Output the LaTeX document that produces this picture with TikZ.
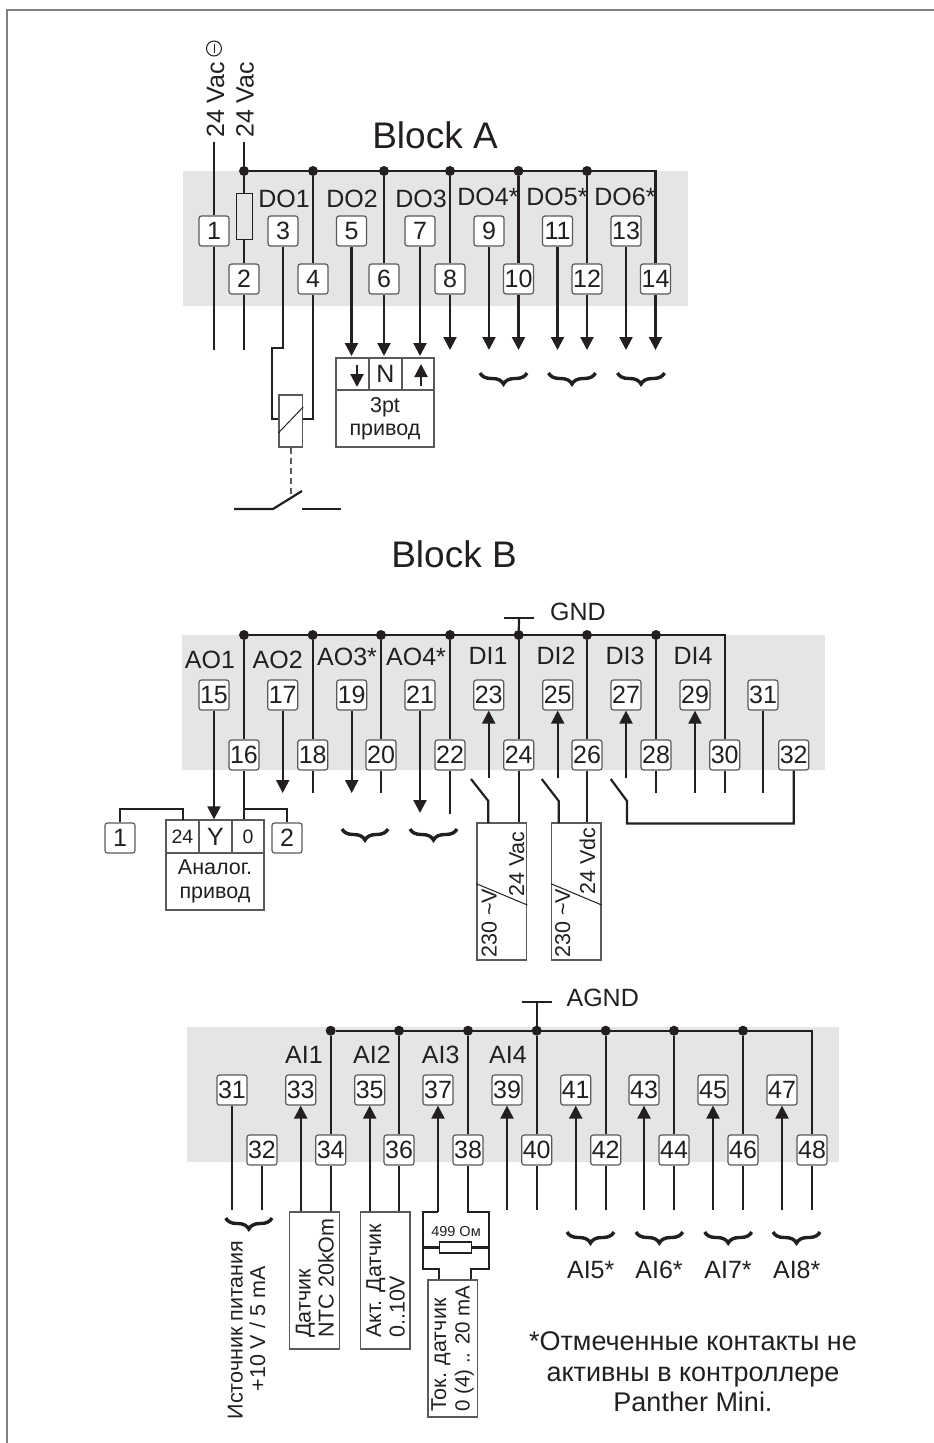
\documentclass[tikz,border=0pt]{standalone}
\usepackage{fontspec}
\setmainfont{Liberation Sans}
\usetikzlibrary{arrows.meta}
\usetikzlibrary{decorations.pathreplacing}
\definecolor{ink}{HTML}{231F20}
\definecolor{panel}{HTML}{E4E5E7}
\definecolor{edge}{HTML}{5A5A5C}
\tikzset{
  lab/.style={inner sep=0pt, text=ink, font=\fontsize{25}{28}\selectfont},
  rot/.style={inner sep=0pt, text=ink, rotate=90, anchor=base west, font=\fontsize{21.5}{23}\selectfont},
  term/.style={draw=edge, line width=1.2pt, fill=white, rounded corners=2.5pt, minimum size=30pt, inner sep=0pt, text=ink, font=\fontsize{25}{28}\selectfont},
  cell/.style={draw=edge, line width=1.3pt, fill=white, inner sep=0pt, text=ink},
  wire/.style={draw=ink, line width=2.2pt},
  tipwire/.style={wire, -{Triangle[length=13pt,width=13pt]}},
  thin wire/.style={draw=ink, line width=1pt},
  dot/.style={circle, fill=ink, minimum size=10pt, inner sep=0pt},
  bracket/.style={draw=ink, line width=3.4pt, decorate, decoration={brace, mirror, amplitude=11pt}},
}
\begin{document}
\begin{tikzpicture}[x=1pt, y=-1pt]
  \useasboundingbox (0,0) rectangle (934,1443);

  \draw[color=gray, line width=2pt] (934,10) -- (6.5,10) -- (6.5,1443);

  \fill[panel] (183,171) rectangle (688,306);
  \fill[panel] (182,635) rectangle (825,770);
  \fill[panel] (187,1027) rectangle (839,1162);

%Block A
  \node[lab, font=\fontsize{37}{40}\selectfont] (titleA) at (435,135) {Block A};
  \def\dy{231};
  \foreach \x/\num in {214/1,283/3,351.5/5,420/7,489/9,557.5/11,626/13} {
    \node[term] (a\num) at (\x,\dy) {\num};
  }
  \def\dy{279};
  \foreach \x/\num in {244/2,313/4,384/6,450/8,518.5/10,587/12,655.5/14} {
    \node[term] (a\num) at (\x,\dy) {\num};
  }
  \foreach \x/\dy/\txt/\name in {284/199/DO1/do1,352/199/DO2/do2,421/199/DO3/do3,488/197/DO4*/do4,557/197/DO5*/do5,625/197/DO6*/do6} {
    \node[lab] (\name) at (\x,\dy) {\txt};
  }
  \foreach \x/\num in {244/2,313/4,384/6,450/8,518.5/10,587/12} {
    \node[dot] (pa\num) at (\x,171) {};
  }
  \draw[wire] (pa2) -| (a14);
  \foreach \num in {4,6,8,10,12} {
    \draw[wire] (pa\num) -- (a\num);
  }

  \node[rot, font=\fontsize{25}{28}\selectfont] (vac1) at (224,138) {24 Vac};
  \node[rot, font=\fontsize{25}{28}\selectfont] (vac2) at (253.5,138) {24 Vac};
  \node[circle, draw=ink, line width=1pt, minimum size=15pt, inner sep=0pt] (mark) at (214,48.5) {};
  \draw[thin wire] (mark.north) ++(0,3) -- ++(0,9);

  \coordinate (top1) at (214,142);
  \coordinate (top2) at (244,142);
  \node[cell, draw=ink, line width=1pt, fill=panel, minimum width=16pt, minimum height=46pt] (fuse) at (244,216) {};
  \draw[wire] (top1) -- (a1);
  \draw[wire] (top2) -- (pa2);
  \draw[wire] (pa2) -- (fuse);
  \draw[wire] (fuse) -- (a2);

  \foreach \x/\num in {214/1,244/2} {
    \coordinate (ea\num) at (\x,350);
    \draw[wire] (a\num) -- (ea\num);
  }
  \foreach \x/\num/\yend in {351.5/5/356,384/6/356,420/7/356,450/8/350,489/9/350,518.5/10/350,557.5/11/350,587/12/350,626/13/350,655.5/14/350} {
    \coordinate (ea\num) at (\x,\yend);
    \draw[tipwire] (a\num) -- (ea\num);
  }

  \foreach \xa/\xb in {480/527,548.5/595.5,617.5/664.5} {
    \draw[bracket] (\xa,373) -- (\xb,373);
  }

  \node[cell, minimum width=23.5pt, minimum height=52pt] (coil) at (290.75,421) {};
  \draw[thin wire] (coil.west |- 0,433) -- (coil.east |- 0,407);
  \draw[wire] (a3) -- (283,348) -- (272,348) -- (272,419) -- (coil.west |- 0,419);
  \draw[wire] (a4) -- (313,419) -- (coil.east |- 0,419);
  \coordinate (relay) at (291,495);
  \draw[draw=edge, line width=1.3pt, dash pattern=on 6pt off 4pt] (coil.south -| relay) -- (relay);
  \draw[wire] (234,509) -- (273,509) -- (302,491);
  \draw[wire] (302,509) -- (341,509);

  \node[cell, minimum width=33pt, minimum height=32pt] (down) at (352.5,374) {};
  \node[cell, minimum width=33pt, minimum height=32pt, font=\fontsize{25}{28}\selectfont] (n3) at (385.5,374) {N};
  \node[cell, minimum width=32pt, minimum height=32pt] (up) at (418,374) {};
  \node[cell, minimum width=98pt, minimum height=57pt, font=\fontsize{21.5}{23}\selectfont, align=center] (pt3) at (385,418.5) {3pt\\привод};
  \draw[tipwire] (357,365) -- (357,387);
  \draw[tipwire] (421,386) -- (421,364);

%Block B
  \node[lab, font=\fontsize{37}{40}\selectfont] (titleB) at (454,554) {Block B};
  \def\dy{695};
  \foreach \x/\num in {214/15,282.7/17,351.7/19,420/21,488.7/23,557.7/25,626/27,695/29,763/31} {
    \node[term] (b\num) at (\x,\dy) {\num};
  }
  \def\dy{755};
  \foreach \x/\num in {244/16,312.7/18,381/20,450/22,518.7/24,587/26,656/28,724.7/30,793.7/32} {
    \node[term] (b\num) at (\x,\dy) {\num};
  }
  \foreach \x/\dy/\txt/\name in {210/660/AO1/ao1,277.7/660/AO2/ao2,347/657/AO3*/ao3,416/657/AO4*/ao4,488/656/DI1/di1,556/656/DI2/di2,625/656/DI3/di3,693/656/DI4/di4} {
    \node[lab] (\name) at (\x,\dy) {\txt};
  }
  \foreach \x/\num in {244/16,312.7/18,381/20,450/22,518.7/24,587/26,656/28} {
    \node[dot] (pb\num) at (\x,635) {};
    \draw[wire] (pb\num) -- (b\num);
  }
  \draw[wire] (pb16) -| (b30);

  \coordinate (gndtop) at (519,618);
  \coordinate (gndl) at (504,618);
  \coordinate (gndr) at (534,618);
  \draw[wire] (pb24) -- (gndtop);
  \draw[wire] (gndl) -- (gndr);
  \node[lab] (gnd) at (578,612) {GND};

  \foreach \x/\name/\txt in {120/one/1,287/two/2} {
    \node[term] (\name) at (\x,838) {\txt};
  }
  \node[cell, minimum width=33pt, minimum height=33pt, font=\fontsize{19.5}{22}\selectfont] (p24) at (182.5,836.5) {24};
  \node[cell, minimum width=33pt, minimum height=33pt, font=\fontsize{25}{28}\selectfont] (py) at (215.5,836.5) {Y};
  \node[cell, minimum width=32pt, minimum height=33pt, font=\fontsize{19.5}{22}\selectfont] (p0) at (248,836.5) {0};
  \node[cell, minimum width=98pt, minimum height=57pt, font=\fontsize{21.5}{24}\selectfont, align=center] (analog) at (215,881.5) {Аналог.\\привод};
  \draw[tipwire] (b15) -- (b15 |- py.north);
  \draw[wire] (b16) -- (b16 |- p0.north);
  \draw[wire] (one) |- (183,809) -- (183,820);
  \draw[wire] (244,809) -| (two);

  \foreach \x/\num/\yend in {282.7/17/793,351.7/19/793,420/21/813} {
    \coordinate (eb\num) at (\x,\yend);
    \draw[tipwire] (b\num) -- (eb\num);
  }
  \foreach \x/\num/\yend in {312.7/18/793,381/20/793,450/22/814,656/28/793,724.7/30/793,763/31/793} {
    \coordinate (eb\num) at (\x,\yend);
    \draw[wire] (b\num) -- (eb\num);
  }
  \foreach \x/\num/\ystart in {488.7/23/778,557.7/25/778,626/27/778,695/29/793} {
    \coordinate (eb\num) at (\x,\ystart);
    \draw[tipwire] (eb\num) -- (b\num);
  }
  \foreach \xa/\xb in {342/388,410/457} {
    \draw[bracket] (\xa,829) -- (\xb,829);
  }

  \node[cell, minimum width=49.7pt, minimum height=137pt] (vac) at (501.85,891.5) {};
  \node[cell, minimum width=49.3pt, minimum height=137pt] (vdc) at (576.35,891.5) {};
  \draw[thin wire] (vac.west |- 0,883.7) -- (vac.east |- 0,905);
  \draw[thin wire] (vdc.west |- 0,883.7) -- (vdc.east |- 0,905);
  \node[rot] (v230a) at (496.5,958) {230 \textasciitilde V};
  \node[rot] (v24a) at (524,897) {24 Vac};
  \node[rot] (v230b) at (570,958) {230 \textasciitilde V};
  \node[rot] (v24b) at (595,895) {24 Vdc};
  \draw[wire] (b24) -- (b24 |- vac.north);
  \draw[wire] (b26) -- (b26 |- vdc.north);
  \draw[wire] (471,779) -- (488.3,801) -- (488.3,823);
  \draw[wire] (541.7,779) -- (558.7,801) -- (558.7,823);
  \draw[wire] (610.7,779) -- (627,801) -- (627,823.5) -| (b32);

%Block C
  \def\dy{1090};
  \foreach \x/\num in {232/31,300.7/33,369.7/35,438/37,507/39,575.7/41,644/43,713/45,782/47} {
    \node[term] (c\num) at (\x,\dy) {\num};
  }
  \def\dy{1150};
  \foreach \x/\num in {262/32,330.7/34,399/36,468/38,536.7/40,605.7/42,674/44,743/46,812/48} {
    \node[term] (c\num) at (\x,\dy) {\num};
  }
  \foreach \x/\txt/\name in {304/AI1/ai1,372/AI2/ai2,440.7/AI3/ai3,508/AI4/ai4} {
    \node[lab] (\name) at (\x,1055) {\txt};
  }
  \foreach \x/\num in {330.7/34,399/36,468/38,536.7/40,605.7/42,674/44,743/46} {
    \node[dot] (pc\num) at (\x,1030.7) {};
    \draw[wire] (pc\num) -- (c\num);
  }
  \draw[wire] (pc34) -| (c48);

  \coordinate (agndtop) at (536.7,1001.7);
  \coordinate (agndl) at (522,1001.7);
  \coordinate (agndr) at (551.7,1001.7);
  \draw[wire] (pc40) -- (agndtop);
  \draw[wire] (agndl) -- (agndr);
  \node[lab] (agnd) at (602.7,998) {AGND};

  \foreach \x/\num in {232/31,262/32,536.7/40,605.7/42,674/44,743/46,812/48} {
    \coordinate (ec\num) at (\x,1210);
    \draw[wire] (c\num) -- (ec\num);
  }
  \foreach \x/\num in {507/39,575.7/41,644/43,713/45,782/47} {
    \coordinate (ec\num) at (\x,1210);
    \draw[tipwire] (ec\num) -- (c\num);
  }

  \draw[bracket] (225.7,1218) -- (272,1218);
  \foreach \xa/\xb in {567/614,636/682.7,704.7/751.7,773/820} {
    \draw[bracket] (\xa,1232) -- (\xb,1232);
  }
  \foreach \x/\txt/\name in {590.7/AI5*/ai5,659/AI6*/ai6,728/AI7*/ai7,796.7/AI8*/ai8} {
    \node[lab] (\name) at (\x,1270) {\txt};
  }

  \node[cell, minimum width=49.6pt, minimum height=137pt] (ntc) at (314.5,1280.5) {};
  \node[cell, minimum width=49.7pt, minimum height=137pt] (act) at (385.15,1280.5) {};
  \node[cell, minimum width=49.3pt, minimum height=137pt] (cur) at (452.65,1348.5) {};
  \draw[tipwire] (ntc.north -| c33) -- (c33);
  \draw[wire] (c34) -- (c34 |- ntc.north);
  \draw[tipwire] (act.north -| c35) -- (c35);
  \draw[wire] (c36) -- (c36 |- act.north);

  \node[rot] (sens1) at (310.5,1338) {Датчик};
  \node[rot] (sens2) at (333.5,1338) {NTC 20kOm};
  \node[rot] (sens3) at (381,1338) {Акт. Датчик};
  \node[rot] (sens4) at (404.5,1338) {0..10V};
  \node[rot] (sens5) at (446,1412) {Ток. датчик};
  \node[rot, font=\fontsize{20.5}{23}\selectfont] (sens6) at (469.5,1412) {0 (4) .. 20 mA};
  \node[rot, anchor=base] (src1) at (242.5,1330) {Источник питания};
  \node[rot, anchor=base] (src2) at (265,1329) {+10 V / 5 mA};

  \node[cell, draw=ink, line width=1.5pt, minimum width=32pt, minimum height=11pt] (r499) at (455.5,1247.5) {};
  \node[inner sep=0pt, text=ink, font=\fontsize{14.5}{16}\selectfont] (ohm) at (456,1231) {499 Ом};
  \coordinate (loopl) at (423,1247.5);
  \coordinate (loopr) at (489,1247.5);
  \draw[tipwire] (438,1212) -- (c37);
  \draw[wire] (438,1212) -| (loopl) -- (423,1269) -- (439,1269) -- (cur.north -| 439,0);
  \draw[wire] (c38) -- (c38 |- 0,1212) -| (loopr) -- (489,1269) -- (470.7,1269) -- (cur.north -| 470.7,0);
  \draw[wire] (loopl) -- (r499);
  \draw[wire] (r499) -- (loopr);

  \node[lab, anchor=base, font=\fontsize{27}{30}\selectfont] (note1) at (693,1350) {*Отмеченные контакты не};
  \node[lab, anchor=base, font=\fontsize{27}{30}\selectfont] (note2) at (693,1381) {активны в контроллере};
  \node[lab, anchor=base, font=\fontsize{27}{30}\selectfont] (note3) at (693,1411) {Panther Mini.};

\end{tikzpicture}
\end{document}
